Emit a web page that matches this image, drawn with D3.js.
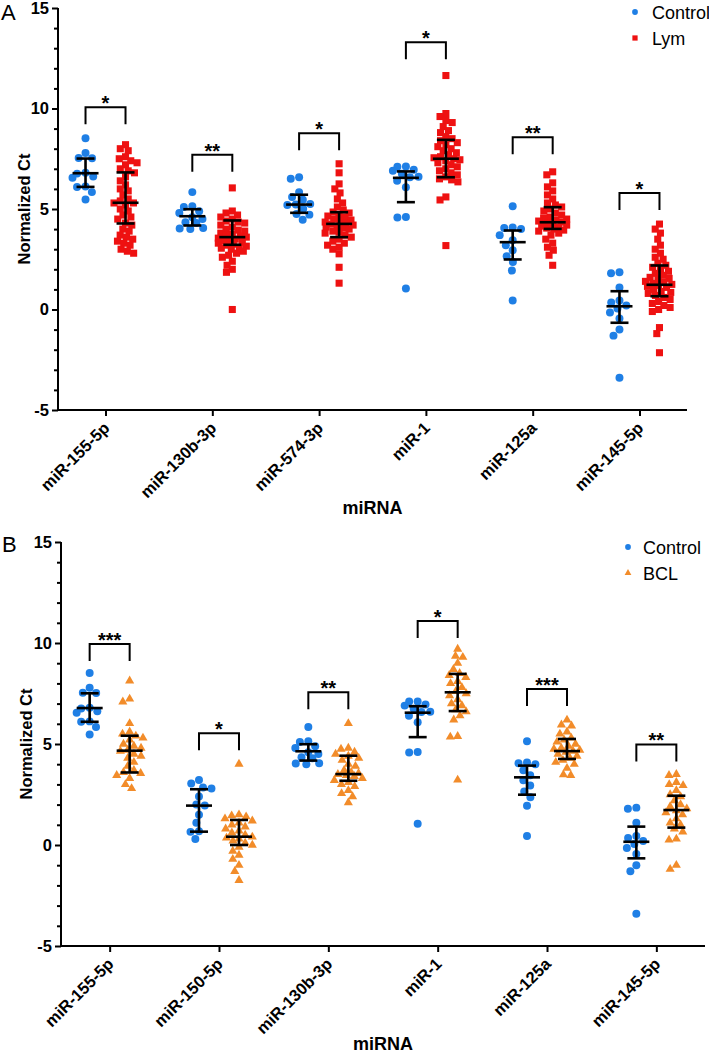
<!DOCTYPE html>
<html><head><meta charset="utf-8">
<script src="https://cdn.jsdelivr.net/npm/d3@7"></script>
<style>body{margin:0;background:#fff} svg{display:block} text{font-family:"Liberation Sans",Arial,Helvetica,sans-serif}</style>
</head><body><svg id="c" width="709" height="1054"></svg>
<script>
// ---------- DATA ----------
const catsA = ["miR-155-5p","miR-130b-3p","miR-574-3p","miR-1","miR-125a","miR-145-5p"];
const catsB = ["miR-155-5p","miR-150-5p","miR-130b-3p","miR-1","miR-125a","miR-145-5p"];
const yTicks = [-5,0,5,10,15];
const groupsA = ["Control","Lym"];
const groupsB = ["Control","BCL"];

// Control (shared between panels)
const ctrl155 = [8.52,7.79,7.54,7.52,6.80,6.76,6.62,6.55,6.12,6.10,5.84,5.47];
const ctrl150 = [3.22,3.05,2.85,2.80,2.40,2.00,1.95,1.50,1.10,0.68,0.65,0.30];
const ctrl130b = [5.84,5.14,5.10,4.89,4.80,4.59,4.50,4.34,4.30,4.05,4.03,4.00];
const ctrl574 = [6.58,6.50,5.84,5.60,5.46,5.25,5.22,5.20,5.01,4.75,4.72,4.46];
const ctrl1 = [7.11,7.10,6.95,6.90,6.75,6.60,6.58,6.40,6.08,4.60,4.58,1.05];
const ctrl125a = [5.14,4.08,4.05,4.00,3.70,3.45,3.20,2.95,2.65,2.36,1.94,0.45];
const ctrl145 = [1.85,1.80,1.10,0.45,0.35,0.20,0.05,-0.15,-0.45,-1.00,-1.30,-3.40];

// Lym (panel A)
const lym155 = [8.2,8.0,7.9,7.6,7.5,7.4,7.3,7.2,7.0,6.9,6.8,6.6,6.4,6.2,6.0,5.9,5.7,5.5,5.4,5.3,5.3,5.2,5.0,4.9,4.7,4.6,4.5,4.3,4.2,4.0,3.9,3.7,3.6,3.5,3.4,3.3,3.2,3.0,2.9,2.8];
const lym130b = [6.05,4.9,4.8,4.7,4.6,4.5,4.4,4.35,4.3,4.2,4.1,4.0,3.95,3.9,3.8,3.75,3.7,3.65,3.6,3.55,3.5,3.45,3.4,3.35,3.3,3.25,3.2,3.15,3.1,3.05,3.0,2.9,2.8,2.7,2.6,2.4,2.2,2.0,1.85,0.0];
const lym574 = [7.25,6.8,6.25,6.0,5.8,5.5,5.3,5.1,4.95,4.85,4.8,4.7,4.65,4.6,4.5,4.45,4.4,4.35,4.3,4.25,4.2,4.15,4.1,4.05,4.0,3.9,3.85,3.8,3.7,3.6,3.5,3.4,3.3,3.2,3.1,3.0,2.77,2.1,1.31];
const lym1 = [11.64,9.75,9.6,9.4,9.3,9.1,8.9,8.8,8.6,8.5,8.4,8.3,8.2,8.1,8.0,7.9,7.8,7.7,7.6,7.55,7.5,7.45,7.4,7.3,7.2,7.1,7.0,6.9,6.8,6.7,6.6,6.5,6.45,6.35,5.6,5.45,3.18];
const lym125a = [6.85,6.7,6.3,6.1,5.9,5.7,5.5,5.3,5.2,5.1,5.0,4.9,4.8,4.7,4.6,4.55,4.5,4.45,4.4,4.35,4.3,4.25,4.2,4.15,4.1,4.05,4.0,3.95,3.9,3.8,3.7,3.5,3.3,3.1,2.95,2.7,2.2];
const lym145 = [4.25,4.0,3.8,3.5,3.2,3.0,2.8,2.6,2.5,2.3,2.2,2.1,2.0,1.9,1.8,1.7,1.6,1.55,1.5,1.4,1.35,1.3,1.25,1.2,1.15,1.1,1.0,0.9,0.85,0.8,0.7,0.6,0.5,0.4,0.3,0.2,0.1,0.0,-0.1,-0.9,-1.2,-2.15];

// BCL (panel B)
const bcl155 = [8.13,7.23,7.09,6.02,5.6,5.5,5.4,5.3,5.2,5.0,4.9,4.8,4.7,4.65,4.5,4.4,4.3,4.1,3.9,3.7,3.6,3.55,3.45,3.3,3.0,2.8];
const bcl150 = [4.01,1.5,1.45,1.4,1.3,1.2,1.1,1.0,0.9,0.8,0.7,0.6,0.5,0.4,0.35,0.3,0.2,0.1,0.0,-0.1,-0.3,-0.5,-0.7,-1.0,-1.3,-1.75];
const bcl130b = [6.02,4.8,4.75,4.6,4.5,4.4,4.3,4.2,4.0,3.9,3.7,3.6,3.55,3.5,3.45,3.4,3.3,3.2,3.1,3.0,2.9,2.7,2.55,2.4,2.1];
const bcl1 = [9.7,9.35,9.3,9.0,8.7,8.5,8.4,8.3,8.1,8.0,7.8,7.6,7.5,7.4,7.2,7.0,6.9,6.7,6.6,6.4,6.2,5.38,5.35,3.22];
const bcl125a = [6.19,5.95,5.9,5.6,5.5,5.3,5.2,5.1,5.0,4.9,4.8,4.75,4.7,4.65,4.6,4.5,4.4,4.3,4.2,4.1,4.0,3.8,3.48,3.45];
const bcl145 = [3.5,3.45,3.1,3.0,2.95,2.7,2.5,2.4,2.2,2.0,1.9,1.8,1.7,1.6,1.5,1.3,1.1,1.0,0.8,0.65,0.3,0.25,-1.0,-1.2];

// error-bar summaries (centre, low, high) in category order
const ctrlMidA = [6.78,4.64,5.22,6.55,3.35,0.16];
const ctrlLoA  = [6.10,4.18,4.81,5.34,2.49,-0.66];
const ctrlHiA  = [7.51,4.99,5.71,6.87,3.93,0.91];
const lymMid = [5.31,3.60,4.26,7.50,4.34,1.23];
const lymLo  = [4.28,3.22,3.60,6.58,4.01,0.66];
const lymHi  = [6.82,4.43,4.84,8.44,5.09,2.19];
const ctrlMidB = [6.78,1.95,4.64,6.55,3.35,0.16];
const ctrlLoB  = [6.10,0.66,4.18,5.34,2.49,-0.66];
const ctrlHiB  = [7.51,2.76,4.99,6.87,3.93,0.91];
const bclMid = [4.67,0.41,3.51,7.56,4.65,1.73];
const bclLo  = [3.59,0.00,3.18,6.63,4.26,0.86];
const bclHi  = [5.41,1.24,4.42,8.47,5.25,2.44];

// significance brackets
const bracketA = [10.06,7.70,8.77,13.3,8.57,5.8];
const sigA = ["*","**","*","*","**","*"];
const bracketB = [9.95,5.53,7.56,11.09,7.72,4.98];
const sigB = ["***","*","**","*","***","**"];

// ---------- BUILD TABLES ----------
const ctrlByCat = {"miR-155-5p":ctrl155,"miR-150-5p":ctrl150,"miR-130b-3p":ctrl130b,"miR-574-3p":ctrl574,"miR-1":ctrl1,"miR-125a":ctrl125a,"miR-145-5p":ctrl145};
const lymByCat = {"miR-155-5p":lym155,"miR-130b-3p":lym130b,"miR-574-3p":lym574,"miR-1":lym1,"miR-125a":lym125a,"miR-145-5p":lym145};
const bclByCat = {"miR-155-5p":bcl155,"miR-150-5p":bcl150,"miR-130b-3p":bcl130b,"miR-1":bcl1,"miR-125a":bcl125a,"miR-145-5p":bcl145};

const BLUE="#1f7fe5", RED="#ee1111", ORANGE="#f28c2a";
const svg = d3.select("#c");

function swarm(vals, yS, D, maxW){
  const pts = vals.map(v=>({v, y:yS(v), x:0})).sort((a,b)=>a.y-b.y);
  const placed=[];
  for(const p of pts){
    const near = placed.filter(q=>Math.abs(q.y-p.y)<D);
    const cands=[0];
    near.forEach(q=>{const dx=Math.sqrt(D*D-(q.y-p.y)**2); cands.push(q.x+dx,q.x-dx);});
    cands.sort((a,b)=>Math.abs(a)-Math.abs(b)||a-b);
    let ok=false;
    for(const c of cands){
      if(Math.abs(c)>maxW) continue;
      if(near.every(q=>(q.x-c)**2+(q.y-p.y)**2>=D*D-0.01)){p.x=c;ok=true;break;}
    }
    if(!ok){
      let best=0,bd=-1;
      for(let c=-maxW;c<=maxW;c+=1){
        const d=Math.min(...near.map(q=>(q.x-c)**2+(q.y-p.y)**2));
        if(d>bd){bd=d;best=c;}
      }
      p.x=best;
    }
    placed.push(p);
  }
  return pts;
}

function panel(cfg){
  const g = svg.append("g");
  const y = d3.scaleLinear().domain([-5,15]).range([cfg.y0, cfg.y1]);
  const x = d3.scalePoint().domain(cfg.cats).range([cfg.x0, cfg.x1]).padding(0.445);
  const gx = d3.scalePoint().domain(cfg.groups).range([-20,20]);

  const ya = g.append("g").attr("transform",`translate(${cfg.x0},0)`)
    .call(d3.axisLeft(y).tickValues(yTicks).tickSize(6).tickPadding(3).tickFormat(d=>String(d)));
  ya.append("g").call(d3.axisLeft(y).tickValues(d3.range(-5,16,1).filter(v=>v%5!==0)).tickSize(4).tickFormat(""))
    .select(".domain").remove();
  const xa = g.append("g").attr("transform",`translate(0,${cfg.y0})`)
    .call(d3.axisBottom(x).tickSize(6).tickFormat(""));
  [ya,xa].forEach(a=>{a.selectAll("path,line").attr("stroke","#000").attr("stroke-width",2);});
  ya.select(".domain").attr("d",`M0,${cfg.y0}V${cfg.y1}`);
  xa.select(".domain").attr("d",`M${cfg.x0},0H${cfg.x1}`);
  ya.selectAll("text").attr("font-size",16.5).attr("font-weight","bold").attr("fill","#000")
    .attr("font-family","'Liberation Sans',Arial,sans-serif");

  g.selectAll(".cat").data(cfg.cats).join("text")
    .attr("transform",d=>`translate(${x(d)+5},${cfg.y0+19}) rotate(-45)`)
    .attr("text-anchor","end").attr("font-size",16.5).attr("font-weight","bold").text(d=>d);

  g.append("text").attr("transform",`translate(${cfg.ytX},${(cfg.y0+cfg.y1)/2}) rotate(-90)`)
    .attr("text-anchor","middle").attr("font-size",16.5).attr("font-weight","bold").text("Normalized Ct");
  g.append("text").attr("x",(cfg.x0+cfg.x1)/2).attr("y",cfg.xtY).attr("text-anchor","middle")
    .attr("font-size",18).attr("font-weight","bold").text("miRNA");
  g.append("text").attr("x",cfg.letterX).attr("y",cfg.letterY).attr("font-size",22).text(cfg.letter);

  const shapeCtrl = d3.symbol(d3.symbolCircle, 50)();
  const shapeGrp = d3.symbol(cfg.grpSym, cfg.grpSize)();

  cfg.cats.forEach((c,i)=>{
    const xc = x(c)+gx(cfg.groups[0]), xg = x(c)+gx(cfg.groups[1]);
    swarm(ctrlByCat[c], y, 8.5, 13).forEach(p=>{
      g.append("path").attr("d",shapeCtrl).attr("fill",BLUE).attr("transform",`translate(${xc+p.x},${p.y})`);
    });
    swarm(cfg.grpData[c], y, cfg.grpD, 14).forEach(p=>{
      g.append("path").attr("d",shapeGrp).attr("fill",cfg.color).attr("transform",`translate(${xg+p.x},${p.y})`);
    });
    const eb=(xx,mid,lo,hi)=>{
      const e=g.append("g").attr("stroke","#000").attr("stroke-width",2.6).attr("fill","none");
      e.append("line").attr("x1",xx).attr("x2",xx).attr("y1",y(lo)).attr("y2",y(hi));
      e.append("line").attr("x1",xx-9).attr("x2",xx+9).attr("y1",y(lo)).attr("y2",y(lo));
      e.append("line").attr("x1",xx-9).attr("x2",xx+9).attr("y1",y(hi)).attr("y2",y(hi));
      e.append("line").attr("x1",xx-13).attr("x2",xx+13).attr("y1",y(mid)).attr("y2",y(mid));
    };
    eb(xc,cfg.cMid[i],cfg.cLo[i],cfg.cHi[i]);
    eb(xg,cfg.gMid[i],cfg.gLo[i],cfg.gHi[i]);
    const by=y(cfg.brk[i]);
    g.append("path").attr("d",`M${xc},${by+17}V${by}H${xg}V${by+17}`)
      .attr("stroke","#000").attr("stroke-width",2).attr("fill","none");
    g.append("text").attr("x",(xc+xg)/2).attr("y",by+3).attr("text-anchor","middle")
      .attr("font-size",20).attr("font-weight","bold").text(cfg.sig[i]);
  });

  const lg = g.append("g");
  lg.append("path").attr("d",d3.symbol(d3.symbolCircle,26)()).attr("fill",BLUE)
    .attr("transform",`translate(${cfg.legX},${cfg.legY})`);
  lg.append("path").attr("d",d3.symbol(cfg.grpSym,cfg.grpSize*0.55)()).attr("fill",cfg.color)
    .attr("transform",`translate(${cfg.legX},${cfg.legY+26})`);
  lg.append("text").attr("x",cfg.legX+cfg.legTx).attr("y",cfg.legY+6.5).attr("font-size",18).text(cfg.groups[0]);
  lg.append("text").attr("x",cfg.legX+cfg.legTx).attr("y",cfg.legY+32.5).attr("font-size",18).text(cfg.groups[1]);
}

panel({cats:catsA, groups:groupsA, y0:410, y1:8, x0:58, x1:687, grpData:lymByCat,
  grpSym:d3.symbolSquare, grpSize:50, grpD:6.6, color:RED,
  cMid:ctrlMidA,cLo:ctrlLoA,cHi:ctrlHiA,gMid:lymMid,gLo:lymLo,gHi:lymHi,brk:bracketA,sig:sigA,
  ytX:30, xtY:514, letter:"A", letterX:1, letterY:20, legX:635, legY:12, legTx:17});
panel({cats:catsB, groups:groupsB, y0:946, y1:542, x0:61, x1:705, grpData:bclByCat,
  grpSym:d3.symbolTriangle, grpSize:36, grpD:7.4, color:ORANGE,
  cMid:ctrlMidB,cLo:ctrlLoB,cHi:ctrlHiB,gMid:bclMid,gLo:bclLo,gHi:bclHi,brk:bracketB,sig:sigB,
  ytX:32, xtY:1050, letter:"B", letterX:2, letterY:552, legX:628, legY:547, legTx:15});
</script></body></html>
